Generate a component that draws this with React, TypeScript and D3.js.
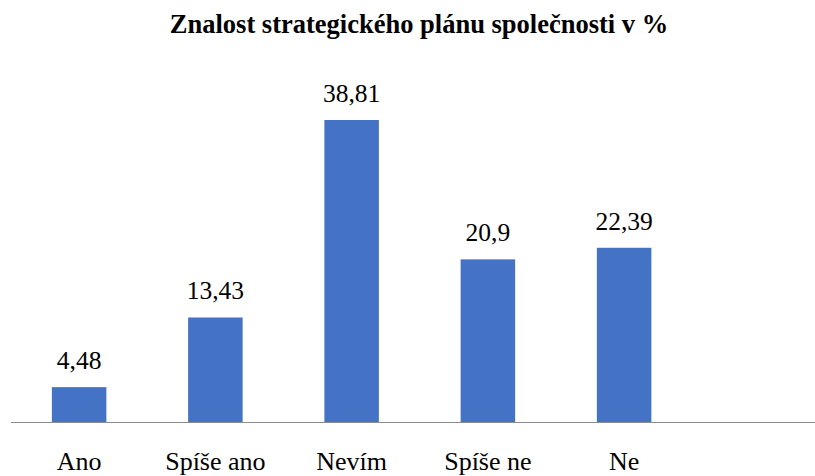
import React from "react";
import * as d3 from "d3";

const categories = ["Ano", "Spíše ano", "Nevím", "Spíše ne", "Ne"];
const values = [4.48, 13.43, 38.81, 20.9, 22.39];
const valueLabels = ["4,48", "13,43", "38,81", "20,9", "22,39"];
const title = "Znalost strategického plánu společnosti v %";

const W = 815;
const H = 476;
const FONT = "Liberation Serif";

export default function App() {
  const x0 = 11;
  const step = 136.25;
  const x = d3
    .scaleBand<string>()
    .domain(categories)
    .range([x0, x0 + step * categories.length])
    .paddingInner(0.6)
    .paddingOuter(0.3);
  const baseline = 422;
  const y = d3.scaleLinear().domain([0, 38.81]).range([baseline, 120]);

  return (
    <svg width={W} height={H} style={{ position: "absolute", left: 0, top: 0 }}>
      <rect x={0} y={0} width={W} height={H} fill="#fff" />
      <text x={419} y={33} textAnchor="middle" fontFamily={FONT} fontWeight="bold" fontSize={26.5} fill="#000">
        {title}
      </text>
      {categories.map((c, i) => (
        <rect
          key={c}
          x={x(c)}
          y={y(values[i])}
          width={x.bandwidth()}
          height={baseline - y(values[i])}
          fill="#4472C4"
        />
      ))}
      <line x1={x0} x2={W} y1={baseline + 0.5} y2={baseline + 0.5} stroke="#8c8c8c" strokeWidth={1} />
      {categories.map((c, i) => (
        <text
          key={"v" + c}
          x={(x(c) as number) + x.bandwidth() / 2}
          y={y(values[i]) - 18}
          textAnchor="middle"
          fontFamily={FONT}
          fontSize={25.5}
          fill="#000"
        >
          {valueLabels[i]}
        </text>
      ))}
      {categories.map((c) => (
        <text
          key={"c" + c}
          x={(x(c) as number) + x.bandwidth() / 2}
          y={470}
          textAnchor="middle"
          fontFamily={FONT}
          fontSize={26}
          fill="#000"
        >
          {c}
        </text>
      ))}
    </svg>
  );
}
